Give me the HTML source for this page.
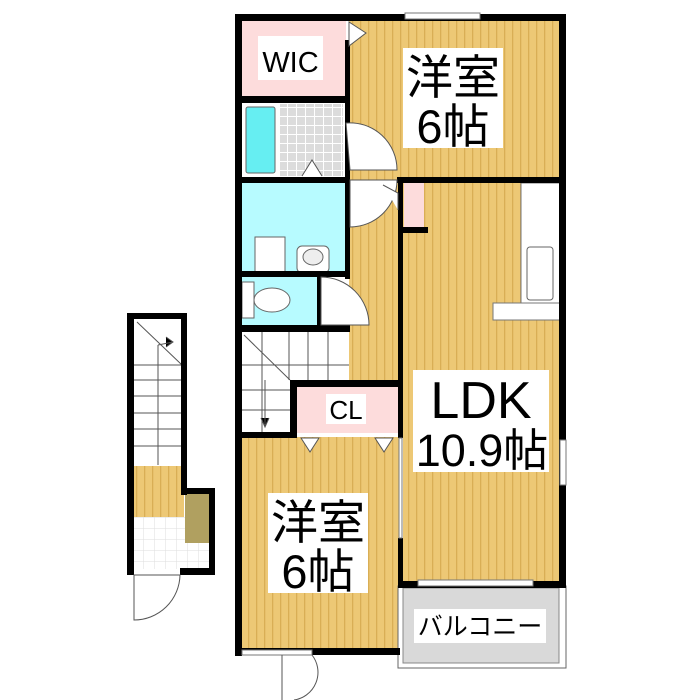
<!DOCTYPE html>
<html><head><meta charset="utf-8"><style>
body{margin:0;background:#fff}
svg{display:block}
text{font-family:"Liberation Sans","Noto Sans CJK JP",sans-serif;fill:#000}
</style></head><body>
<svg width="700" height="700" viewBox="0 0 700 700" xmlns="http://www.w3.org/2000/svg">
<defs>
<pattern id="fl" x="0" y="0" width="8" height="10" patternUnits="userSpaceOnUse">
<rect width="8" height="10" fill="#EDC875"/>
<rect x="0" width="1.3" height="10" fill="#D9AE55"/>
</pattern>
<pattern id="tile" width="9" height="9" patternUnits="userSpaceOnUse">
<rect width="9" height="9" fill="#fff"/>
<rect x="0" y="0" width="8" height="8" fill="#dcdcdc"/>
</pattern>
<pattern id="tile2" width="11" height="11" patternUnits="userSpaceOnUse">
<rect width="11" height="11" fill="#fff"/>
<path d="M0 0H11M0 0V11" stroke="#ddd" stroke-width="1"/>
</pattern>
</defs>

<rect x="349" y="21" width="212" height="158" fill="url(#fl)"/>
<rect x="349" y="179" width="50" height="205" fill="url(#fl)"/>
<rect x="403" y="183" width="158" height="400" fill="url(#fl)"/>
<rect x="241" y="437" width="158" height="213" fill="url(#fl)"/>
<rect x="134" y="465" width="50" height="53" fill="url(#fl)"/>

<rect x="241" y="21" width="105" height="77" fill="#FDDCDC"/>
<rect x="241" y="102" width="105" height="77" fill="#fff"/>
<rect x="280" y="104" width="63" height="72" fill="url(#tile)"/>
<rect x="246" y="107" width="29" height="66" rx="2" fill="#66EEF2" stroke="#666"/>
<rect x="241" y="183" width="105" height="90" fill="#B7FBFF"/>
<rect x="255" y="237" width="30" height="36" fill="#fff" stroke="#666"/>
<rect x="297" y="246" width="32" height="27" rx="5" fill="#fff" stroke="#666"/>
<ellipse cx="313" cy="257" rx="10" ry="8" fill="#eee" stroke="#666"/>
<rect x="241" y="277" width="77" height="49" fill="#B7FBFF"/>
<rect x="242" y="282" width="12" height="36" fill="#fff" stroke="#666"/>
<ellipse cx="272" cy="300" rx="18" ry="12" fill="#fff" stroke="#666"/>
<rect x="318" y="277" width="28" height="49" fill="#fff"/>
<rect x="241" y="331" width="108" height="103" fill="#fff"/>
<g stroke="#555" stroke-width="1">
<path d="M241 365H349M241 390H290M241 410H290M289 331V380M308 331V380M328 331V380M262 331V434"/>
<path d="M244 335L290 380"/>
<path d="M265 380V425M261 418L265 427L269 418"/>
</g>
<rect x="296" y="386" width="102" height="47" fill="#FDDCDC"/>
<rect x="404" y="183" width="20" height="47" fill="#FDDCDC"/>
<rect x="521" y="183" width="40" height="120" fill="#fff" stroke="#777"/>
<rect x="527" y="247" width="26" height="53" rx="3" fill="#fff" stroke="#666"/>
<rect x="493" y="303" width="68" height="17" fill="#fff" stroke="#777"/>

<rect x="398" y="586" width="168" height="82" fill="#fff" stroke="#666"/>
<rect x="403" y="588" width="156" height="75" fill="#D9D9D9" stroke="#888"/>

<rect x="134" y="318" width="48" height="148" fill="#fff"/>
<g stroke="#555" stroke-width="1">
<path d="M134 365H182M134 380H182M134 396H182M134 413H182M134 429H182M134 446H182M158 345V465"/>
<path d="M137 322L182 365"/>
<path d="M158 345L173 342M166 337L173 342L166 347"/>
</g>
<rect x="134" y="517" width="76" height="52" fill="url(#tile2)"/>
<rect x="185" y="494" width="24" height="49" fill="#B0A060"/>

<g fill="#000">
<rect x="235" y="14" width="331" height="7"/>
<rect x="235" y="14" width="7" height="642"/>
<rect x="559" y="14" width="7" height="574"/>
<rect x="241" y="96" width="109" height="7"/>
<rect x="345" y="40" width="5" height="139"/>
<rect x="345" y="179" width="5" height="100"/>
<rect x="236" y="177" width="114" height="6"/>
<rect x="397" y="177" width="169" height="6"/>
<rect x="236" y="271" width="114" height="6"/>
<rect x="317" y="277" width="4" height="50"/>
<rect x="235" y="325" width="115" height="7"/>
<rect x="398" y="183" width="5" height="255"/>
<rect x="398" y="227" width="30" height="6"/>
<rect x="398" y="538" width="5" height="50"/>
<rect x="290" y="380" width="113" height="7"/>
<rect x="290" y="380" width="7" height="58"/>
<rect x="236" y="432" width="58" height="6"/>
<rect x="398" y="581" width="168" height="7"/>
<rect x="235" y="648" width="165" height="7"/>
<rect x="127" y="313" width="60" height="6"/>
<rect x="127" y="313" width="7" height="262"/>
<rect x="181" y="313" width="6" height="182"/>
<rect x="181" y="488" width="34" height="6"/>
<rect x="209" y="488" width="6" height="87"/>
<rect x="180" y="568" width="35" height="7"/>
</g>
<rect x="405" y="13" width="75" height="6" fill="#fff" stroke="#777"/>
<rect x="560" y="440" width="6" height="45" fill="#fff" stroke="#777"/>
<rect x="418" y="580" width="115" height="6" fill="#fff" stroke="#777"/>
<rect x="242" y="650" width="70" height="5" fill="#fff" stroke="#777"/>
<rect x="399" y="438" width="3" height="100" fill="#fff" stroke="#777"/>
<g fill="#fff" stroke="#555" stroke-width="1">
<path d="M346 123A47 47 0 0 1 397 170L350 170Z"/>
<path d="M350 180H397A47 47 0 0 1 350 227Z"/>
<path d="M321 277A48 48 0 0 1 369 325H321Z"/>
<path d="M349 22V46L366 33Z"/>
<path d="M322 176L312 160L302 176"/>
<path d="M383 185L398 193V210"/>
<path d="M301 438L310 452L319 438Z"/>
<path d="M375 438L384 452L393 438Z"/>
<path d="M134 575V620A46 46 0 0 0 180 575Z"/>
<path d="M282 655V700M312 655A28 28 0 0 1 294 700"/>
</g>

<rect x="258" y="36" width="65" height="44" fill="#fff"/>
<text x="290.5" y="72" font-size="29" text-anchor="middle">WIC</text>
<rect x="403" y="48" width="100" height="100" fill="#fff"/>
<text x="453" y="94" font-size="47" text-anchor="middle">洋室</text>
<text x="453" y="143" font-size="47" text-anchor="middle">6帖</text>
<rect x="413" y="370" width="136" height="102" fill="#fff"/>
<text x="481" y="418" font-size="52" text-anchor="middle">LDK</text>
<text x="482" y="466" font-size="45" text-anchor="middle">10.9帖</text>
<rect x="268" y="493" width="100" height="100" fill="#fff"/>
<text x="318" y="539" font-size="47" text-anchor="middle">洋室</text>
<text x="318" y="588" font-size="47" text-anchor="middle">6帖</text>
<rect x="326" y="394" width="40" height="30" fill="#fff"/>
<text x="346" y="419" font-size="26" text-anchor="middle">CL</text>
<rect x="414" y="609" width="132" height="34" fill="#fff"/>
<text x="480" y="635" font-size="25" text-anchor="middle">バルコニー</text>
</svg>
</body></html>
